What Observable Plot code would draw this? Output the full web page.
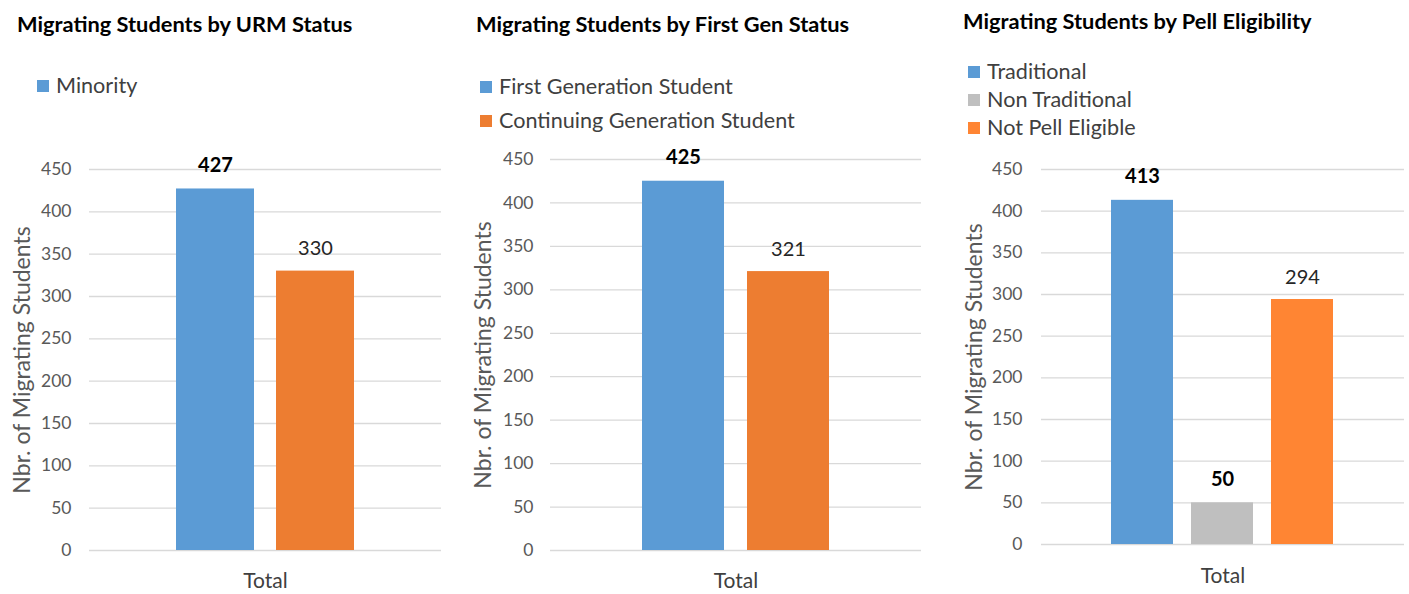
<!DOCTYPE html>
<html><head><meta charset="utf-8">
<script src="https://cdn.jsdelivr.net/npm/d3@7"></script>
<script src="https://cdn.jsdelivr.net/npm/@observablehq/plot@0.6"></script>
<style>
html,body{margin:0;padding:0;background:#fff;}
#root{position:relative;width:1409px;height:594px;overflow:hidden;font-family:Lato, sans-serif;}
.title{position:absolute;font-weight:700;font-size:21.8px;line-height:1;color:#000;white-space:nowrap;}
.legend{position:absolute;}
.legend .row{display:flex;align-items:center;font-size:21.6px;line-height:1;color:#404040;white-space:nowrap;}
.legend .sw{width:12px;height:12px;margin-right:7px;flex:none;}
.plot{position:absolute;top:140px;}
</style></head><body><div id="root"></div>
<script>
// ---- data ----
const group = ["Total"];
const yTicks = [0, 50, 100, 150, 200, 250, 300, 350, 400, 450];
const yLabel = "Nbr. of Migrating Students";

const urmTitle = "Migrating Students by URM Status";
const urmSeries = ["Minority", "Non-Minority"];
const urmValues = [427, 330];
const urmLegend = ["Minority"];

const genTitle = "Migrating Students by First Gen Status";
const genSeries = ["First Generation Student", "Continuing Generation Student"];
const genValues = [425, 321];
const genLegend = ["First Generation Student", "Continuing Generation Student"];

const pellTitle = "Migrating Students by Pell Eligibility";
const pellSeries = ["Traditional", "Non Traditional", "Not Pell Eligible"];
const pellValues = [413, 50, 294];
const pellLegend = ["Traditional", "Non Traditional", "Not Pell Eligible"];

// ---- styling / layout ----
const panels = [
  {title: urmTitle, series: urmSeries, values: urmValues, legend: urmLegend,
   colors: ["#5B9BD5", "#ED7D31"], bold: ["Minority"],
   left: 0, width: 460, ml: 89, mr: 19, mt: 29, mb: 44, pi: 0.22, po: 0.87, tp: 18, fxp: 23,
   titleLeft: 17, titleTop: 12.5, legendLeft: 37, legendTop: 71.5, rowH: 28},
  {title: genTitle, series: genSeries, values: genValues, legend: genLegend,
   colors: ["#5B9BD5", "#ED7D31"], bold: ["First Generation Student"],
   left: 460, width: 480, ml: 90, mr: 19, mt: 19, mb: 44, pi: 0.219, po: 0.876, tp: 17, fxp: 23,
   titleLeft: 16, titleTop: 13, legendLeft: 20, legendTop: 69.5, rowH: 34},
  {title: pellTitle, series: pellSeries, values: pellValues, legend: pellLegend,
   colors: ["#5B9BD5", "#BFBFBF", "#FF8533"], bold: ["Traditional", "Non Traditional"],
   left: 940, width: 469, ml: 101, mr: 5, mt: 29, mb: 50, pi: 0.222, po: 0.852, tp: 19, fxp: 24,
   titleLeft: 23, titleTop: 9.5, legendLeft: 28, legendTop: 57.5, rowH: 28}
];

const root = document.getElementById("root");

for (const p of panels) {
  const data = p.series.map((s, i) => ({group: group[0], series: s, value: p.values[i]}));
  const colorOf = new Map(p.series.map((s, i) => [s, p.colors[i]]));

  const t = document.createElement("div");
  t.className = "title";
  t.style.left = (p.left + p.titleLeft) + "px";
  t.style.top = p.titleTop + "px";
  t.textContent = p.title;
  root.appendChild(t);

  const lg = document.createElement("div");
  lg.className = "legend";
  lg.style.left = (p.left + p.legendLeft) + "px";
  lg.style.top = p.legendTop + "px";
  for (const name of p.legend) {
    const row = document.createElement("div");
    row.className = "row";
    row.style.height = p.rowH + "px";
    const sw = document.createElement("div");
    sw.className = "sw";
    sw.style.background = colorOf.get(name);
    const lab = document.createElement("span");
    lab.textContent = name;
    row.appendChild(sw); row.appendChild(lab);
    lg.appendChild(row);
  }
  root.appendChild(lg);

  const isBold = d => p.bold.includes(d.series);
  const svg = Plot.plot({
    width: p.width, height: 454,
    marginLeft: p.ml, marginRight: p.mr, marginTop: p.mt, marginBottom: p.mb,
    style: {fontFamily: "Lato, sans-serif", color: "#595959", background: "transparent", overflow: "visible"},
    fx: {domain: group, padding: 0, label: null},
    x: {domain: p.series, paddingInner: p.pi, paddingOuter: p.po, axis: null},
    y: {domain: [0, 450], axis: null},
    color: {domain: p.series, range: p.colors},
    marks: [
      Plot.gridY(yTicks, {stroke: "#d9d9d9", strokeOpacity: 1, strokeWidth: 1.3}),
      Plot.axisY(yTicks, {tickSize: 0, tickPadding: p.tp, fontSize: 17.5, label: null}),
      Plot.axisY([], {tickSize: 0, label: yLabel, labelAnchor: "center", labelArrow: "none", labelOffset: 76, fontSize: 23}),
      Plot.axisFx({anchor: "bottom", tickSize: 0, tickPadding: p.fxp, fontSize: 21, label: null, fill: "#404040"}),
      Plot.barY(data, {fx: "group", x: "series", y: "value", fill: "series"}),
      Plot.text(data.filter(isBold), {fx: "group", x: "series", y: "value", text: "value", dy: -17, lineAnchor: "bottom", fontSize: 20, fontWeight: "bold", fill: "#000"}),
      Plot.text(data.filter(d => !isBold(d)), {fx: "group", x: "series", y: "value", text: "value", dy: -16, lineAnchor: "bottom", fontSize: 20, fill: "#262626"})
    ]
  });
  svg.classList.add("plot");
  svg.style.left = p.left + "px";
  root.appendChild(svg);
}
</script>
</body></html>
